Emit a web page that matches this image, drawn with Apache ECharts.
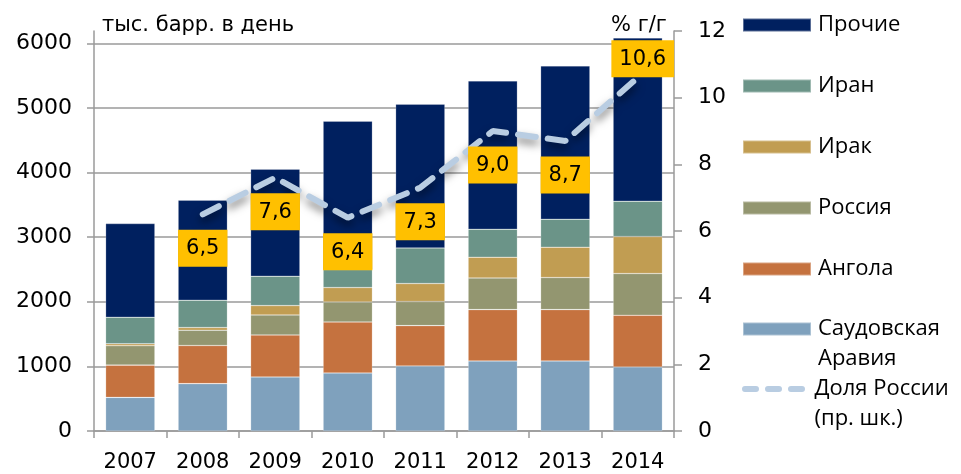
<!DOCTYPE html>
<html>
<head>
  <meta charset="utf-8">
  <script src="https://cdn.jsdelivr.net/npm/echarts@6.0.0/dist/echarts.min.js"></script>
  <style>
    body { margin: 0; background: #fff; }
  </style>
</head>
<body>
  <div id="main" style="width: 961px; height: 474px;"></div>

  <script>
    // годы
    var years = ['2007', '2008', '2009', '2010', '2011', '2012', '2013', '2014'];

    // тыс. барр. в день, по странам (снизу вверх)
    var saudi  = [520, 733, 836, 898, 1006, 1084, 1084, 991];
    var angola = [500, 590, 650, 789, 625, 795, 795, 800];
    var russia = [300, 237, 310, 310, 372, 489, 496, 646];
    var iraq   = [30, 41, 145, 223, 279, 321, 469, 572];
    var iran   = [410, 423, 454, 280, 551, 433, 433, 547];
    var others = [1450, 1548, 1656, 2294, 2224, 2296, 2373, 2528];

    // доля России, % г/г (правая шкала)
    var share = [null, 6.5, 7.6, 6.4, 7.3, 9.0, 8.7, 10.6];

    var chartDom = document.getElementById('main');
    var myChart = echarts.init(chartDom);

    var font = 'DejaVu Sans';
    var legendFont = 'Open Sans';
    var lineColor = '#b9cde2';

    function barSeries(name, data, color) {
      return {
        name: name,
        type: 'bar',
        stack: 'total',
        barCategoryGap: '32%',
        data: data,
        itemStyle: { color: color, borderColor: 'rgba(255,255,255,0.35)', borderWidth: 0.6 },
        emphasis: { disabled: true }
      };
    }

    // подписи доли: под линией, кроме 2014
    var shareData = share.map(function (v, i) {
      if (v == null) return v;
      var item = { value: v };
      if (i === share.length - 1) {
        item.label = { position: 'top', distance: 0, offset: [5, 0] };
      }
      return item;
    });

    var legendText = { fontFamily: legendFont, fontSize: 22, lineHeight: 30, color: '#000', padding: [0, 0, 0, 2] };

    var option = {
      animation: false,
      textStyle: { fontFamily: font },
      title: [
        { text: 'тыс. барр. в день', left: 97, top: 10,
          textStyle: { fontFamily: font, fontSize: 21, fontWeight: 'normal', color: '#000' } },
        { text: '% г/г', left: 606, top: 10,
          textStyle: { fontFamily: font, fontSize: 21, fontWeight: 'normal', color: '#000' } }
      ],
      grid: { left: 94, right: 287, top: 31, bottom: 43, containLabel: false },
      legend: [
        {
          orient: 'vertical', left: 742, top: 10, padding: 0, itemWidth: 68, itemHeight: 13, itemGap: 31,
          icon: 'rect',
          data: ['Прочие', 'Иран', 'Ирак', 'Россия', 'Ангола'],
          textStyle: legendText
        },
        {
          orient: 'vertical', left: 742, top: 284, padding: 0, itemWidth: 68, itemHeight: 13,
          icon: 'rect',
          data: ['Саудовская Аравия'],
          formatter: function () { return '\nСаудовская\nАравия'; },
          textStyle: legendText
        },
        {
          orient: 'vertical', left: 742, top: 344, padding: 0, itemWidth: 68, itemHeight: 6,
          data: [{ name: 'Доля России (пр. шк.)',
                   icon: 'path://M3,0 L14,0 A3,3 0 0 1 14,6 L3,6 A3,3 0 0 1 3,0 Z M26,0 L37,0 A3,3 0 0 1 37,6 L26,6 A3,3 0 0 1 26,0 Z M49,0 L60,0 A3,3 0 0 1 60,6 L49,6 A3,3 0 0 1 49,0 Z',
                   itemStyle: { color: lineColor, opacity: 1 } }],
          formatter: function () { return '\nДоля России\n(пр. шк.)'; },
          textStyle: legendText
        }
      ],
      xAxis: {
        type: 'category',
        data: years,
        axisLine: { lineStyle: { color: '#9a9a9a', width: 1.5 } },
        axisTick: { show: true, length: 7, lineStyle: { color: '#9a9a9a', width: 1.5 } },
        axisLabel: { color: '#000', fontSize: 21, fontFamily: font, margin: 21, interval: 0 }
      },
      yAxis: [
        {
          type: 'value',
          min: 0, max: 6190, interval: 1000,
          axisLine: { show: true, lineStyle: { color: '#9a9a9a', width: 1.5 } },
          axisTick: { show: true, length: 7, lineStyle: { color: '#9a9a9a', width: 1.5 } },
          axisLabel: {
            color: '#000', fontSize: 22, fontFamily: font, margin: 22, showMaxLabel: false,
            formatter: function (v) { return v % 1000 === 0 ? v : ''; }
          },
          splitLine: { show: true, lineStyle: {
            color: ['#9a9a9a', '#9a9a9a', '#9a9a9a', '#9a9a9a', '#9a9a9a', '#9a9a9a', '#9a9a9a', 'rgba(0,0,0,0)'],
            width: 1.5 } }
        },
        {
          type: 'value',
          min: 0, max: 12, interval: 2,
          position: 'right',
          axisLine: { show: true, lineStyle: { color: '#9a9a9a', width: 1.5 } },
          axisTick: { show: true, length: 8, lineStyle: { color: '#9a9a9a', width: 1.5 } },
          axisLabel: { color: '#000', fontSize: 22, fontFamily: font, margin: 24 },
          splitLine: { show: false }
        }
      ],
      series: [
        barSeries('Саудовская Аравия', saudi, '#7fa1bd'),
        barSeries('Ангола', angola, '#c5723f'),
        barSeries('Россия', russia, '#939670'),
        barSeries('Ирак', iraq, '#c19d52'),
        barSeries('Иран', iran, '#6b9488'),
        barSeries('Прочие', others, '#00205f'),
        {
          name: 'Доля России (пр. шк.)',
          type: 'line',
          yAxisIndex: 1,
          data: shareData,
          symbol: 'circle',
          symbolSize: 1,
          itemStyle: { color: 'rgba(0,0,0,0)' },
          lineStyle: {
            color: lineColor, width: 6, type: [18, 12], cap: 'round',
            shadowColor: 'rgba(0,0,0,0.5)', shadowBlur: 9, shadowOffsetY: 5
          },
          label: {
            show: true, position: 'bottom', distance: 15,
            formatter: function (p) { return p.value.toFixed(1).replace('.', ','); },
            backgroundColor: '#ffc000', color: '#000',
            fontFamily: font, fontSize: 21, padding: [7, 8, 6, 8], lineHeight: 24
          },
          emphasis: { disabled: true },
          z: 5
        }
      ]
    };

    option && myChart.setOption(option);
  </script>
</body>
</html>
